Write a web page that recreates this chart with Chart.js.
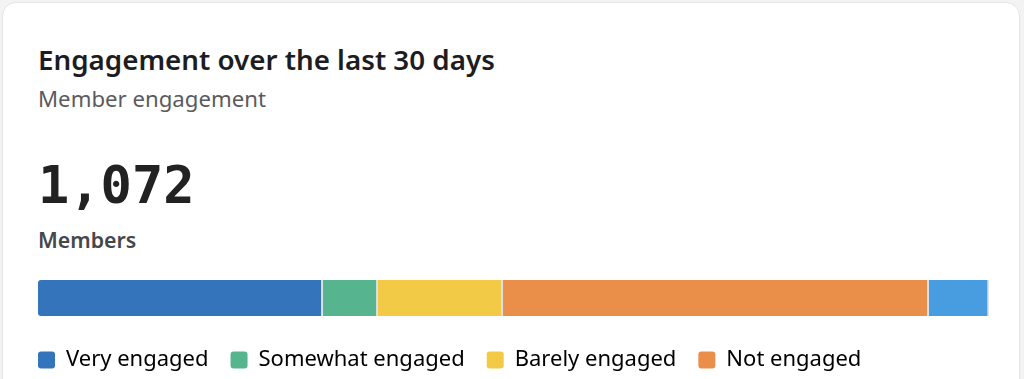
<!DOCTYPE html>
<html>
<head>
<meta charset="utf-8">
<script src="https://cdn.jsdelivr.net/npm/chart.js@4/dist/chart.umd.min.js"></script>
<style>
  html, body { margin: 0; padding: 0; background: #f3f3f4; overflow: hidden; width: 1024px; height: 379px; }
  .card { position: absolute; left: 2px; top: 2px; width: 1018px; height: 520px; background: #fff;
          border: 1px solid #e4e5e7; border-radius: 14px; box-sizing: border-box; }
  .t { position: absolute; left: 38px; line-height: 1; white-space: nowrap; font-family: "Noto Sans", "Open Sans", sans-serif; }
  #title { top: 46px; font-size: 27.75px; font-weight: 600; color: #1d1d1f; }
  #subtitle { top: 88px; font-size: 22.2px; font-weight: 400; color: #5b5b5e; }
  #total { top: 159px; left: 38px; font-family: "DejaVu Sans Mono", monospace; font-size: 52px; font-weight: 700; color: #222; }
  #unit { top: 229px; font-size: 21.3px; font-weight: 600; color: #45474b; }
  #chartBox { position: absolute; left: 16px; top: 280px; width: 973px; height: 145px; }
</style>
</head>
<body>
<div class="card"></div>
<div class="t" id="title">Engagement over the last 30 days</div>
<div class="t" id="subtitle">Member engagement</div>
<div class="t" id="total"></div>
<div class="t" id="unit">Members</div>
<div id="chartBox"><canvas id="c"></canvas></div>
<script>
// Data
const categories = ["Members"];
const seriesLabels = ["Very engaged", "Somewhat engaged", "Barely engaged", "Not engaged", "New members"];
const seriesValues = [321, 62, 141, 480, 68];
const seriesColors = ["#3474ba", "#56b48f", "#f2ca46", "#e98f4a", "#489de0"];

const total = seriesValues.reduce((a, b) => a + b, 0);
document.getElementById('total').textContent = total.toLocaleString('en-US');

const datasets = seriesLabels.map((lab, i) => ({
  label: lab,
  data: [seriesValues[i]],
  backgroundColor: seriesColors[i],
  borderColor: '#dfe3e8',
  borderWidth: { left: 0, right: 2, top: 0, bottom: 0 },
  borderSkipped: false,
  borderRadius: i === 0 ? { topLeft: 3, bottomLeft: 3, topRight: 0, bottomRight: 0 } : 0,
  barPercentage: 1,
  categoryPercentage: 1
}));

new Chart(document.getElementById('c'), {
  type: 'bar',
  data: { labels: categories, datasets },
  options: {
    indexAxis: 'y',
    responsive: true,
    maintainAspectRatio: false,
    devicePixelRatio: 1,
    animation: false,
    layout: { padding: 0 },
    scales: {
      x: {
        stacked: true, min: 0, max: total,
        display: true,
        ticks: { display: false },
        grid: { display: false },
        border: { display: false },
        afterFit: (s) => { s.height = 11; }
      },
      y: {
        stacked: true,
        display: true,
        ticks: { display: false },
        grid: { display: false },
        border: { display: false },
        afterFit: (s) => { s.width = 22; }
      }
    },
    plugins: {
      tooltip: { enabled: false },
      legend: {
        display: true,
        position: 'bottom',
        align: 'start',
        maxHeight: 400,
        labels: {
          boxWidth: 17,
          boxHeight: 17,
          padding: 22,
          color: '#23232b',
          font: { family: '"Noto Sans", "Open Sans", sans-serif', size: 22 },
          useBorderRadius: true,
          borderRadius: 3,
          generateLabels: (chart) => chart.data.datasets.map((ds, i) => ({
            text: ds.label,
            fillStyle: ds.backgroundColor,
            strokeStyle: ds.backgroundColor,
            lineWidth: 0,
            borderRadius: 3,
            datasetIndex: i,
            hidden: false
          }))
        }
      }
    }
  }
});
</script>
</body>
</html>
